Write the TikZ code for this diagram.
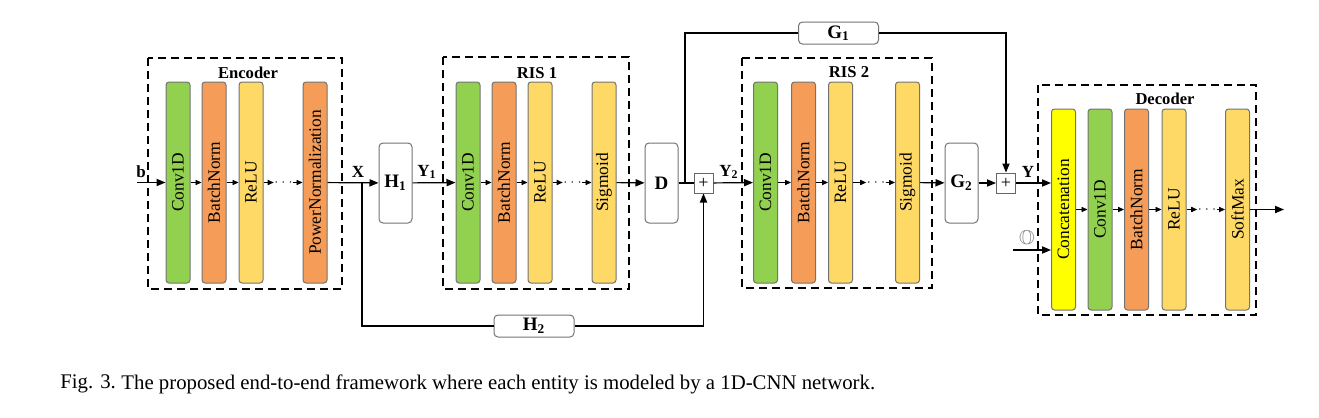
\documentclass[tikz,border=0pt]{standalone}
\usepackage{amssymb}
\usepackage{fontspec}
\setmainfont{Liberation Serif}
\usetikzlibrary{arrows.meta}
\definecolor{convgreen}{RGB}{146,208,80}
\definecolor{normorange}{RGB}{245,157,88}
\definecolor{actyellow}{RGB}{255,217,102}
\definecolor{catyellow}{RGB}{255,255,0}

\begin{document}
\begin{tikzpicture}[
  x=0.5pt, y=-0.5pt,
  layer/.style={draw=black!55, line width=0.5pt, rounded corners=1.5pt, minimum width=12pt, minimum height=100.5pt, inner sep=0pt, font=\fontsize{8.7}{10}\selectfont},
  op/.style={draw=black!55, line width=0.5pt, rounded corners=2pt, minimum width=16.5pt, minimum height=40pt, inner sep=0pt, font=\fontsize{9.5}{11}\selectfont\bfseries},
  wide/.style={op, minimum width=40pt, minimum height=11pt},
  plus/.style={draw=black!60, line width=0.5pt, minimum width=9.5pt, minimum height=10pt, inner sep=0pt, font=\fontsize{9}{10}\selectfont},
  group/.style={line width=0.9pt, dash pattern=on 4pt off 2.5pt},
  title/.style={font=\fontsize{8.3}{9}\selectfont\bfseries, inner sep=0pt},
  lbl/.style={font=\fontsize{8.5}{10}\selectfont\bfseries, inner sep=0pt},
  dots/.style={inner sep=0pt, minimum width=4.5pt, font=\fontsize{6}{7}\selectfont},
  arrow/.style={-{Triangle[length=4.5pt,width=3.6pt]}, line width=0.6pt},
  sarrow/.style={-{Triangle[length=3pt,width=2.6pt]}, line width=0.45pt},
  capt/.style={anchor=west, inner sep=0pt, font=\fontsize{10.4}{12}\selectfont}
]
\useasboundingbox (0,0) rectangle (1319,418);

% Encoder
\draw[group] (148,58) rectangle (342,289);
\node[title] (enctitle) at (248,73) {Encoder};
\node[layer, fill=convgreen] (e1) at (178,182.5) {\rotatebox{90}{Conv1D}};
\node[layer, fill=normorange] (e2) at (214,182.5) {\rotatebox{90}{BatchNorm}};
\node[layer, fill=actyellow] (e3) at (251,182.5) {\rotatebox{90}{ReLU}};
\node[dots] (edots) at (283.5,182.5) {$\cdots$};
\node[layer, fill=normorange] (e4) at (315,182.5) {\rotatebox{90}{PowerNormalization}};

% RIS 1
\draw[group] (443,57) rectangle (629,289);
\node[title] (r1title) at (537,73) {RIS 1};
\node[layer, fill=convgreen] (r1) at (468,182.5) {\rotatebox{90}{Conv1D}};
\node[layer, fill=normorange] (r2) at (504,182.5) {\rotatebox{90}{BatchNorm}};
\node[layer, fill=actyellow] (r3) at (540,182.5) {\rotatebox{90}{ReLU}};
\node[dots] (rdots) at (572.5,182.5) {$\cdots$};
\node[layer, fill=actyellow] (r4) at (604,182.5) {\rotatebox{90}{Sigmoid}};

% RIS 2
\draw[group] (742,58) rectangle (932,288);
\node[title] (r2title) at (849,72) {RIS 2};
\node[layer, fill=convgreen] (q1) at (765.5,182.5) {\rotatebox{90}{Conv1D}};
\node[layer, fill=normorange] (q2) at (803.5,182.5) {\rotatebox{90}{BatchNorm}};
\node[layer, fill=actyellow] (q3) at (840.5,182.5) {\rotatebox{90}{ReLU}};
\node[dots] (qdots) at (876,182.5) {$\cdots$};
\node[layer, fill=actyellow] (q4) at (907.5,182.5) {\rotatebox{90}{Sigmoid}};

% Decoder
\draw[group] (1038,85) rectangle (1256,315);
\node[title] (dectitle) at (1165,99) {Decoder};
\node[layer, fill=catyellow] (c1) at (1063.5,209.5) {\rotatebox{90}{Concatenation}};
\node[layer, fill=convgreen] (c2) at (1100,209.5) {\rotatebox{90}{Conv1D}};
\node[layer, fill=normorange] (c3) at (1136.5,209.5) {\rotatebox{90}{BatchNorm}};
\node[layer, fill=actyellow] (c4) at (1174,209.5) {\rotatebox{90}{ReLU}};
\node[dots] (cdots) at (1207,209.5) {$\cdots$};
\node[layer, fill=actyellow] (c5) at (1237.5,209.5) {\rotatebox{90}{SoftMax}};

% channel blocks
\node[op] (h1) at (395.5,183) {H\textsubscript{1}};
\node[op] (d) at (661.5,183) {D};
\node[op] (g2) at (961.5,183) {G\textsubscript{2}};
\node[wide] (h2) at (534,326) {H\textsubscript{2}};
\node[wide] (g1) at (838.5,33) {G\textsubscript{1}};
\node[plus] (p1) at (703.5,183) {+};
\node[plus] (p2) at (1006,183) {+};

\coordinate (bin) at (137,182.5);
\coordinate (xsplit) at (362,182.5);
\coordinate (dsplit) at (685,183);
\coordinate (oin) at (1013,250);
\coordinate (out) at (1284,209.5);

% labels
\node[lbl] (blbl) at (141,172) {b};
\node[lbl] (xlbl) at (358,172) {X};
\node[lbl] (y1lbl) at (427,172) {Y\textsubscript{1}};
\node[lbl] (y2lbl) at (729,172) {Y\textsubscript{2}};
\node[lbl] (ylbl) at (1028,172) {Y};
\node[inner sep=0pt, text=black!50, font=\fontsize{10}{11}\selectfont] (olbl) at (1027,239) {$\mathbb{O}$};

% inner arrows
\foreach \a/\b in {e1/e2, e2/e3, e3/edots, edots/e4, r1/r2, r2/r3, r3/rdots, rdots/r4,
                   q1/q2, q2/q3, q3/qdots, qdots/q4, c1/c2, c2/c3, c3/c4, c4/cdots, cdots/c5}
  \draw[sarrow] (\a) -- (\b);

% main flow
\draw[arrow] (bin) -- (e1);
\draw[arrow] (e4) -- (h1);
\draw[arrow] (h1) -- (r1);
\draw[arrow] (r4) -- (d);
\draw[line width=0.6pt] (d) -- (p1);
\draw[arrow] (p1) -- (q1);
\draw[arrow] (q4) -- (g2);
\draw[arrow] (g2) -- (p2);
\draw[arrow] (p2) -- (p2 -| c1.west);
\draw[arrow] (oin) -- (oin -| c1.west);
\draw[arrow] (c5) -- (out);

% side paths
\draw[line width=0.6pt] (xsplit) |- (h2);
\draw[arrow] (h2) -| (p1);
\draw[line width=0.6pt] (dsplit) |- (g1);
\draw[arrow] (g1) -| (p2);

% caption
\node[capt] (fig) at (60,384) {Fig. 3.};
\node[capt] (caption) at (121,384) {The proposed end-to-end framework where each entity is modeled by a 1D-CNN network.};
\end{tikzpicture}
\end{document}
